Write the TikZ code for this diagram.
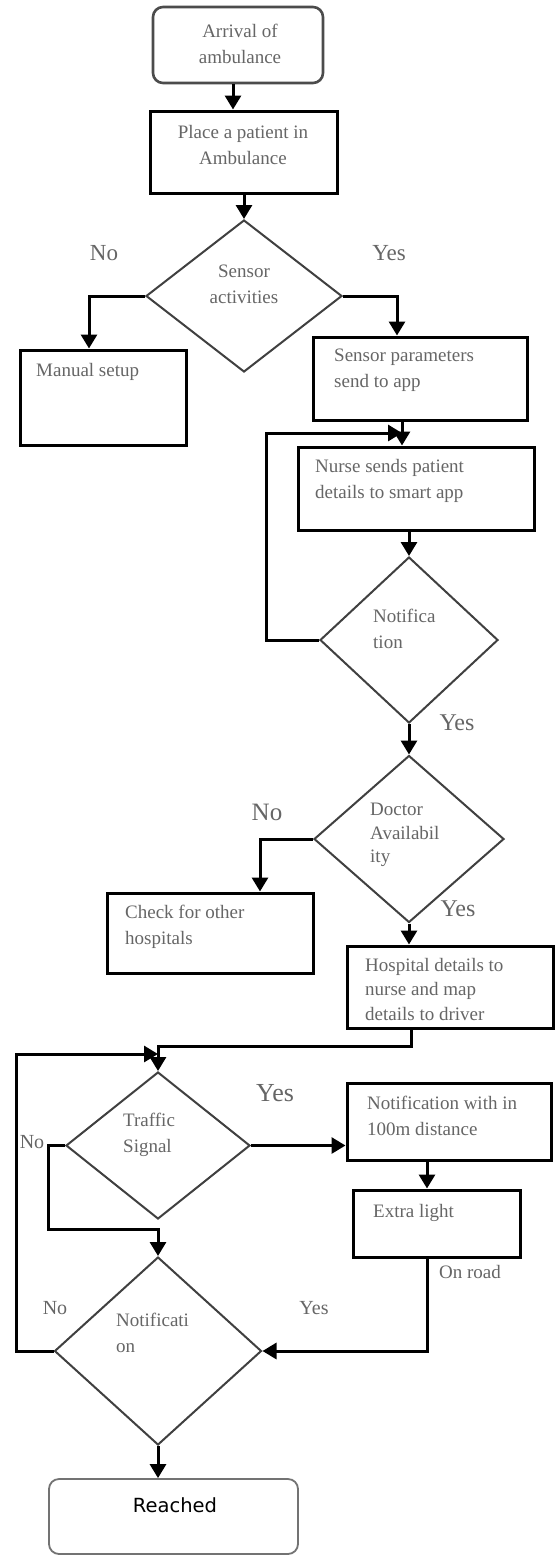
\documentclass[tikz,border=0pt]{standalone}
\usepackage{fontspec}
\setmainfont{Liberation Serif}
\newfontfamily\reachfont{DejaVu Sans}
\usetikzlibrary{arrows.meta,shapes.geometric}

\begin{document}
\begin{tikzpicture}[x=1pt,y=-1pt,
  box/.style={draw=black,line width=3pt,inner sep=0pt},
  terminal/.style={draw=black!70,line width=2.6pt,rounded corners=10pt,inner sep=0pt},
  decision/.style={diamond,draw=black!75,line width=2pt,inner sep=0pt},
  txt/.style={font=\fontsize{19}{26}\selectfont,text=black!60,align=left,inner sep=0pt,anchor=west},
  ctxt/.style={txt,align=center,anchor=center},
  lbl/.style={font=\fontsize{#1}{#1}\selectfont,text=black!60,inner sep=0pt},
  lbl/.default=22,
  flow/.style={line width=3pt,-{Triangle[width=16pt,length=14pt]}}
]
\fill[white] (0,0) rectangle (557,1558);
\useasboundingbox (0,0) rectangle (557,1558);

% ---- nodes ----
\node[terminal,minimum width=170pt,minimum height=76pt] (start) at (238,45) {};
\node[ctxt] (startT) at (240,44) {Arrival of\\ambulance};

\node[box,minimum width=187pt,minimum height=82pt] (place) at (244,152) {};
\node[ctxt] (placeT) at (243,145) {Place a patient in\\Ambulance};

\node[decision,minimum width=196pt,minimum height=152pt] (sensor) at (244,296) {};
\node[ctxt] (sensorT) at (244,284.5) {Sensor\\activities};
\node[lbl=23] (noA) at (104,253) {No};
\node[lbl=23] (yesA) at (389,253) {Yes};

\node[box,minimum width=166pt,minimum height=95pt] (manual) at (103,397.5) {};
\node[txt] (manualT) at (36,372) {Manual setup};

\node[box,minimum width=214pt,minimum height=83pt] (param) at (420,378.5) {};
\node[txt] (paramT) at (334,370) {Sensor parameters\\send to app};

\node[box,minimum width=236pt,minimum height=83pt] (nurse) at (416,488.5) {};
\node[txt] (nurseT) at (315,481) {Nurse sends patient\\details to smart app};

\node[decision,minimum width=178pt,minimum height=166pt] (notif) at (409,640) {};
\node[txt] (notifT) at (373,629) {Notifica\\tion};
\node[lbl=24] (yesB) at (457,723) {Yes};

\node[decision,minimum width=190pt,minimum height=167pt] (doctor) at (409,839) {};
\node[txt,font=\fontsize{19}{23.5}\selectfont] (doctorT) at (370,835) {Doctor\\Availabil\\ity};
\node[lbl=25] (noC) at (267,812) {No};
\node[lbl=24] (yesC) at (458,909) {Yes};

\node[box,minimum width=206pt,minimum height=80pt] (check) at (210,933) {};
\node[txt] (checkT) at (125,926.5) {Check for other\\hospitals};

\node[box,minimum width=206pt,minimum height=82pt] (hosp) at (450,987) {};
\node[txt,font=\fontsize{19}{24.5}\selectfont] (hospT) at (365,989) {Hospital details to\\nurse and map\\details to driver};

\node[decision,minimum width=184pt,minimum height=147pt] (traffic) at (158,1145.5) {};
\node[txt] (trafficT) at (123,1135) {Traffic\\Signal};
\node[lbl=26] (yesD) at (275,1093) {Yes};
\node[lbl=20] (noD) at (32,1142) {No};

\node[box,minimum width=204pt,minimum height=77pt] (near) at (449,1121.5) {};
\node[txt] (nearT) at (367,1116) {Notification with in\\100m distance};

\node[box,minimum width=167pt,minimum height=67pt] (extra) at (436.5,1223.5) {};
\node[txt] (extraT) at (373,1213) {Extra light};
\node[lbl=19] (road) at (470,1272) {On road};

\node[decision,minimum width=207pt,minimum height=188pt] (arrive) at (158,1351) {};
\node[txt] (arriveT) at (116,1332.5) {Notificati\\on};
\node[lbl=20] (noE) at (55,1308) {No};
\node[lbl=20] (yesE) at (314,1308) {Yes};

\node[terminal,draw=black!55,line width=1.8pt,minimum width=249pt,minimum height=75pt] (reached) at (173.5,1516.5) {};
\node[font=\reachfont\fontsize{19.5}{22}\selectfont,inner sep=0pt] (reachedT) at (175,1505) {Reached};

% ---- ports and junctions ----
\coordinate (p1) at ([xshift=-5pt]start.south);
\coordinate (p2) at ([xshift=-14pt]manual.north);
\coordinate (p3) at ([xshift=-23pt]param.north);
\coordinate (p4) at ([xshift=-18pt]param.south);
\coordinate (p5) at ([xshift=-7pt]nurse.south);
\coordinate (p6) at ([xshift=50pt]check.north);
\coordinate (p7) at ([xshift=-39pt]hosp.south);
\coordinate (p8) at ([xshift=-22pt]near.south);
\coordinate (p9) at ([xshift=-9.5pt]extra.south);
\coordinate (j1) at (402,433);
\coordinate (j2) at (158,1054);

% ---- connectors ----
\draw[flow] (p1) -- (p1 |- place.north);
\draw[flow] (place.south) -- (sensor.north);
\draw[flow] (sensor.west) -| (p2);
\draw[flow] (sensor.east) -| (p3);
\draw[flow] (p4) -- (p4 |- nurse.north);
\draw[flow] (notif.west) -- ++(-53,0) |- (j1);
\draw[flow] (p5) -- (notif.north);
\draw[flow] (notif.south) -- (doctor.north);
\draw[flow] (doctor.west) -| (p6);
\draw[flow] (doctor.south) -- (doctor.south |- hosp.north);
\draw[flow] (p7) -- ++(0,17) -| (traffic.north);
\draw[flow] (traffic.east) -- (traffic.east -| near.west);
\draw[flow] (p8) -- (p8 |- extra.north);
\draw[flow] (traffic.west) -- ++(-17,0) -- ++(0,84) -| (arrive.north);
\draw[flow] (p9) |- (arrive.east);
\draw[flow] (arrive.west) -- ++(-37,0) |- (j2);
\draw[flow] (arrive.south) -- (arrive.south |- reached.north);
\end{tikzpicture}
\end{document}
